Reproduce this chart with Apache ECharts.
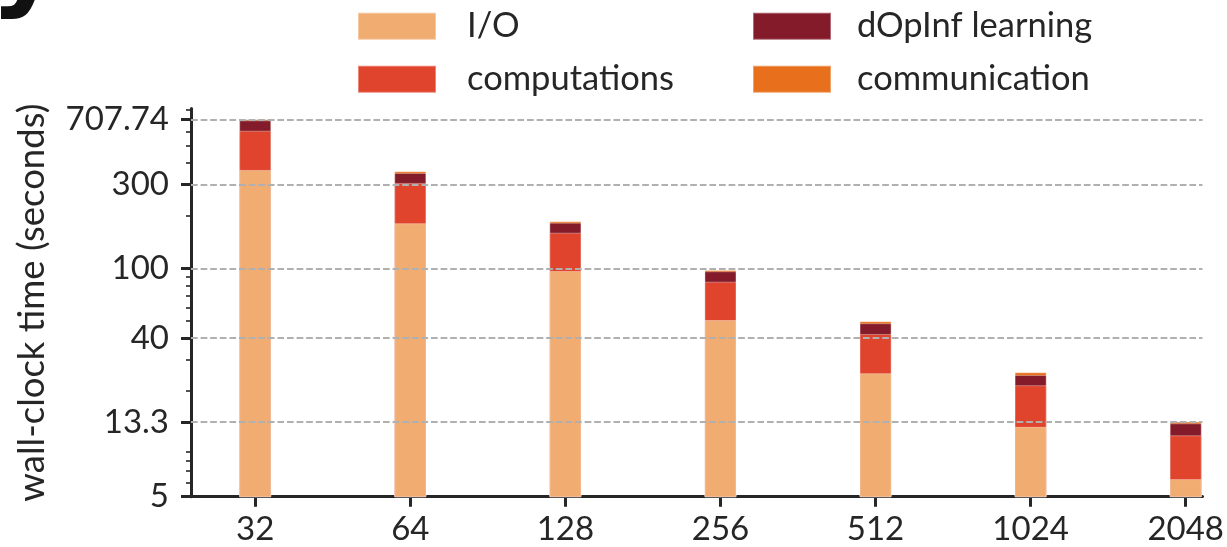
<!DOCTYPE html>
<html>
<head>
<meta charset="utf-8">
<script src="https://cdn.jsdelivr.net/npm/echarts@6/dist/echarts.min.js"></script>
<style>
  html, body { margin: 0; padding: 0; background: #ffffff; }
  #chart { width: 1227px; height: 547px; }
</style>
</head>
<body>
<div id="chart"></div>
<script>
// Number of processes on the x axis
const categories = ['32', '64', '128', '256', '512', '1024', '2048'];

// Wall-clock time per phase (seconds), stacked bottom to top
const ioTime      = [364, 181, 96.7, 50.8, 25.3, 12.5, 6.3];
const computeTime = [245, 126, 63.1, 33.2, 17.0, 9.1, 4.9];
const learnTime   = [88.7, 43, 22.4, 12.3, 6.4, 3.1, 1.9];
const commTime    = [10.04, 8, 3.4, 1.6, 1.3, 0.9, 0.3];

// Log-axis ticks
const yTickValues = [5, 13.3, 40, 100, 300, 707.74];
const yTickLabels = ['5', '13.3', '40', '100', '300', '707.74'];
const yMinorTicks = [6, 7, 8, 9, 20, 30, 50, 60, 70, 80, 90, 200, 400, 500, 600, 700, 800];

const yMin = 5;
const yMax = 814;
const xMin = -0.414;
const xMax = 6.108;

const FONT = 'Lato';
const INK = '#262626';

const layers = [
  { name: 'I/O',             color: '#F1AC71', values: ioTime },
  { name: 'computations',    color: '#E1442C', values: computeTime },
  { name: 'dOpInf learning', color: '#841B2B', values: learnTime },
  { name: 'communication',   color: '#E8701C', values: commTime }
];

// Running totals so every layer can be drawn as a bar from the axis to its own top
const running = categories.map(() => 0);
layers.forEach(layer => {
  layer.tops = layer.values.map((v, i) => (running[i] += v));
});

// Top layer first so lower layers are painted over it
const series = layers.slice().reverse().map((layer, k, arr) => {
  const s = {
    name: layer.name,
    type: 'bar',
    barWidth: 32,
    barGap: '-100%',
    clip: true,
    itemStyle: {
      color: layer.color,
      borderColor: 'rgba(255,255,255,0.35)',
      borderWidth: 1
    },
    emphasis: { disabled: true },
    data: layer.tops.map((v, i) => [i, v])
  };
  if (k === arr.length - 1) {
    // dashed horizontal grid at the major ticks, painted over the bars
    s.markLine = {
      silent: true,
      symbol: 'none',
      label: { show: false },
      lineStyle: { color: '#b0b0b0', width: 1.8, type: [6.7, 2.9] },
      data: yTickValues.filter(v => v > yMin).map(v => ({ yAxis: v }))
    };
  }
  return s;
});

const chart = echarts.init(document.getElementById('chart'), null, { renderer: 'canvas' });

const legendCommon = {
  orient: 'vertical',
  icon: 'rect',
  itemWidth: 78,
  itemHeight: 27,
  itemGap: 18,
  top: 8.7,
  padding: 0,
  selectedMode: false,
  textStyle: {
    fontFamily: FONT,
    fontSize: 34.5,
    color: INK,
    lineHeight: 27
  }
};

const logAxisBase = {
  type: 'log',
  logBase: 10,
  min: yMin,
  max: yMax,
  position: 'left',
  splitLine: { show: false }
};

chart.setOption({
  animation: false,
  backgroundColor: '#ffffff',
  textStyle: { fontFamily: FONT },
  graphic: [{
    type: 'text',
    silent: true,
    style: {
      text: 'y',
      x: -10,
      y: -34,
      font: 'bold 110px "DejaVu Sans"',
      fill: '#111111',
      textVerticalAlign: 'middle'
    }
  }],
  legend: [
    Object.assign({}, legendCommon, {
      left: 357,
      data: ['I/O', 'computations'],
      textStyle: Object.assign({}, legendCommon.textStyle, { padding: [0, 0, 0, 26] })
    }),
    Object.assign({}, legendCommon, {
      left: 752,
      data: ['dOpInf learning', 'communication'],
      textStyle: Object.assign({}, legendCommon.textStyle, { padding: [0, 0, 0, 21] })
    })
  ],
  grid: {
    left: 191,
    right: 23,
    top: 108.6,
    bottom: 50.3,
    containLabel: false
  },
  xAxis: {
    type: 'value',
    min: xMin,
    max: xMax,
    axisLine: { show: true, onZero: false, lineStyle: { color: INK, width: 3 } },
    axisTick: {
      show: true,
      length: 10,
      customValues: categories.map((c, i) => i),
      lineStyle: { color: INK, width: 3 }
    },
    axisLabel: {
      show: true,
      customValues: categories.map((c, i) => i),
      formatter: v => categories[Math.round(v)],
      fontFamily: FONT,
      fontSize: 33,
      color: INK,
      margin: 16
    },
    splitLine: { show: false }
  },
  yAxis: [
    // labels, axis line and title
    Object.assign({}, logAxisBase, {
      name: 'wall-clock time (seconds)',
      nameLocation: 'middle',
      nameGap: 140,
      nameTextStyle: { fontFamily: FONT, fontSize: 36.5, color: INK },
      axisLine: { show: true, onZero: false, lineStyle: { color: INK, width: 3 } },
      axisTick: { show: false },
      axisLabel: {
        show: true,
        customValues: yTickValues,
        formatter: v => {
          const i = yTickValues.findIndex(t => Math.abs(t - v) / t < 1e-6);
          return i >= 0 ? yTickLabels[i] : '';
        },
        fontFamily: FONT,
        fontSize: 33,
        color: INK,
        margin: 22
      }
    }),
    // major ticks
    Object.assign({}, logAxisBase, {
      axisLine: { show: false, onZero: false },
      axisLabel: { show: false },
      axisTick: {
        show: true,
        length: 10,
        customValues: yTickValues,
        lineStyle: { color: INK, width: 3 }
      }
    }),
    // minor ticks
    Object.assign({}, logAxisBase, {
      axisLine: { show: false, onZero: false },
      axisLabel: { show: false },
      axisTick: {
        show: true,
        length: 5,
        customValues: yMinorTicks,
        lineStyle: { color: INK, width: 1.6 }
      }
    })
  ],
  series: series
});
</script>
</body>
</html>
